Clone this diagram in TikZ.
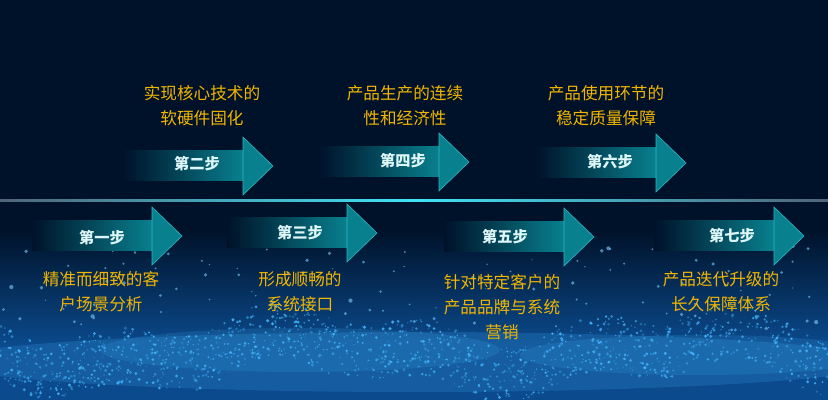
\documentclass[tikz,border=0pt]{standalone}
\usepackage{fontspec}
\setmainfont{Noto Sans CJK SC}
\usetikzlibrary{positioning}

\definecolor{bgnavy}{HTML}{001229}
\definecolor{glowblue}{HTML}{0B4A8C}
\definecolor{dotblue}{HTML}{45B8FF}
\definecolor{steal}{HTML}{08808E}
\definecolor{sedge}{HTML}{2BB8C4}
\definecolor{sgold}{HTML}{F2B600}
\definecolor{stext}{HTML}{DDF6F8}
\definecolor{lineend}{HTML}{4F6577}
\definecolor{linemid}{HTML}{3FE3F7}

\begin{document}
\begin{tikzpicture}[
    x=0.03cm, y=-0.03cm,
    body/.style={left color=bgnavy, right color=steal, draw=none},
    head/.style={fill=steal, draw=sedge, line width=0.5pt, line join=miter},
    sl/.style={font=\bfseries\fontsize{13}{14}\selectfont, text=stext, inner sep=0pt},
    lb/.style={font=\fontsize{14.2}{21.3}\selectfont, text=sgold, align=center, inner sep=0pt}
]
\useasboundingbox (0,0) rectangle (828,400);
% background with particle glow
\fill[bgnavy] (0,0) rectangle (828,400);
\shade[top color=bgnavy, bottom color=glowblue] (0,230) rectangle (828,345);
\fill[glowblue] (0,345) rectangle (828,400);
\fill[dotblue, opacity=0.18] (414,362) ellipse (470 and 30);
\fill[dotblue, opacity=0.15] (300,350) ellipse (200 and 22);
\fill[dotblue, opacity=0.15] (700,355) ellipse (180 and 20);
\pgfmathsetseed{11}
\foreach \i in {1,...,1500}{
  \pgfmathsetmacro\px{rnd*828}
  \pgfmathsetmacro\py{352+14*sin(\px*0.9)+10*sin(\px*2.3)+rand*28}
  \pgfmathsetmacro\pr{0.5+rnd*1.2}
  \pgfmathsetmacro\po{0.3+rnd*0.6}
  \fill[dotblue, opacity=\po] (\px,\py) circle (\pr);
}
\foreach \i in {1,...,110}{
  \pgfmathsetmacro\px{rnd*828}
  \pgfmathsetmacro\py{245+rnd*85}
  \pgfmathsetmacro\pr{0.6+rnd*1.6}
  \fill[dotblue!70!white, opacity=0.6] (\px,\py) circle (\pr);
}
% time line
\shade[left color=lineend, right color=lineend, middle color=linemid] (0,199.5) rectangle (828,202);

% upper row
\fill[body] (123,151) rectangle (243,181);
\filldraw[head] (243,137) -- (273,166) -- (243,195) -- cycle;
\node[sl] (s2) at (197,164) {第二步};
\fill[body] (319,147) rectangle (439,177);
\filldraw[head] (439,133) -- (469,162) -- (439,191) -- cycle;
\node[sl] (s4) at (403,161) {第四步};
\fill[body] (536,148) rectangle (656,178);
\filldraw[head] (656,134) -- (686,163) -- (656,192) -- cycle;
\node[sl] (s6) at (610,162) {第六步};

% lower row
\fill[body] (32,221) rectangle (152,251);
\filldraw[head] (152,207) -- (182,236) -- (152,265) -- cycle;
\node[sl] (s1) at (102,238) {第一步};
\fill[body] (227,218) rectangle (347,248);
\filldraw[head] (347,204) -- (377,233) -- (347,262) -- cycle;
\node[sl] (s3) at (300,233) {第三步};
\fill[body] (444,222) rectangle (564,252);
\filldraw[head] (564,208) -- (594,237) -- (564,266) -- cycle;
\node[sl] (s5) at (505,237) {第五步};
\fill[body] (654,221) rectangle (774,251);
\filldraw[head] (774,207) -- (804,236) -- (774,265) -- cycle;
\node[sl] (s7) at (732,236) {第七步};

% labels
\node[lb] (l2) at (202,106) {实现核心技术的\\软硬件固化};
\node[lb] (l4) at (405,106) {产品生产的连续\\性和经济性};
\node[lb] (l6) at (606,106) {产品使用环节的\\稳定质量保障};
\node[lb] (l1) at (101,292) {精准而细致的客\\户场景分析};
\node[lb] (l3) at (300,292) {形成顺畅的\\系统接口};
\node[lb] (l5) at (502,307) {针对特定客户的\\产品品牌与系统\\营销};
\node[lb] (l7) at (721,292) {产品迭代升级的\\长久保障体系};
\end{tikzpicture}
\end{document}
